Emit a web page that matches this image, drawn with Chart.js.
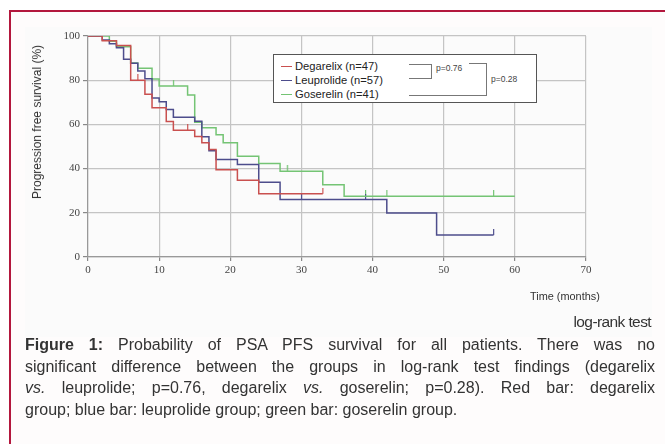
<!DOCTYPE html>
<html><head><meta charset="utf-8">
<script src="https://cdn.jsdelivr.net/npm/chart.js@4.4.0/dist/chart.umd.min.js"></script>
<style>
html,body{margin:0;padding:0;background:#fff;width:665px;height:444px;overflow:hidden;position:relative;font-family:"Liberation Sans",Arial,sans-serif;}
#frame{position:absolute;left:9px;top:10px;width:700px;height:500px;border:2px solid #b3173d;background:#fefcfc;}
#imgbg{position:absolute;left:25px;top:27px;width:627px;height:310px;background:#fbfbfb;}
#c{position:absolute;left:0;top:0;}
.abs{position:absolute;white-space:nowrap;}
#ytitle{left:37px;top:122px;font-size:12px;color:#333;transform:translate(-50%,-50%) rotate(-90deg);line-height:12px;}
#xtitle{left:530px;top:290px;font-size:10.9px;color:#333;line-height:12px;}
#logrank{right:14px;top:314px;font-size:15.5px;color:#333;line-height:16px;letter-spacing:-0.6px;}
#legend{position:absolute;left:273px;top:54px;width:264px;height:49px;box-sizing:border-box;border:1px solid #555;background:#fff;}
.li{position:absolute;left:21px;font-size:11.2px;color:#222;line-height:12px;white-space:nowrap;}
.ls{position:absolute;left:7px;width:11px;height:0;border-top:1.6px solid;}
.br{position:absolute;border-color:#777;border-style:solid;border-width:0;}
.pv{position:absolute;font-size:8.5px;color:#444;line-height:9px;white-space:nowrap;}
#caption{position:absolute;left:25px;top:334px;width:630px;font-size:16px;line-height:21.7px;color:#333;}
#caption div{text-align:justify;text-align-last:justify;white-space:nowrap;}
#caption div.last{text-align:left;text-align-last:left;}
</style></head>
<body>
<div id="frame"></div>
<div id="imgbg"></div>
<canvas id="c" width="665" height="340"></canvas>
<div class="abs" id="ytitle">Progression free survival (%)</div>
<div class="abs" id="xtitle">Time (months)</div>
<div class="abs" id="logrank">log-rank test</div>
<div id="legend"></div>
<div id="caption">
<div><b>Figure 1:</b> Probability of PSA PFS survival for all patients. There was no</div>
<div>significant difference between the groups in log-rank test findings (degarelix</div>
<div><i>vs.</i> leuprolide; p=0.76, degarelix <i>vs.</i> goserelin; p=0.28). Red bar: degarelix</div>
<div class="last">group; blue bar: leuprolide group; green bar: goserelin group.</div>
</div>
<script>
// ---- DATA ----
const seriesNames = ["Degarelix (n=47)", "Leuprolide (n=57)", "Goserelin (n=41)"];
const degarelixTime = [0, 2, 4, 6, 8, 9, 11, 12, 15, 16, 17, 18, 21, 24, 33];
const degarelixPFS  = [100, 97.9, 95.7, 80.0, 73.6, 67.5, 61.3, 57.4, 54.5, 51.7, 48.6, 39.5, 34.7, 28.6, 28.6];
const leuprolideTime = [0, 2, 3, 4, 5, 6, 7, 8, 9, 10, 11, 12, 15, 16, 17, 18, 21, 24, 27, 42, 49, 57];
const leuprolidePFS  = [100, 98.2, 96.5, 94.7, 89.5, 87.7, 84.2, 80.7, 72.0, 70.2, 66.7, 63.2, 61.4, 54.4, 48.1, 44.1, 41.8, 33.8, 26.0, 19.9, 9.9, 9.9];
const goserelinTime = [0, 3, 4, 6, 7, 9, 10, 14, 15, 16, 18, 19, 21, 24, 27, 33, 36, 60];
const goserelinPFS  = [100, 97.6, 95.1, 87.8, 85.4, 80.5, 77.4, 73.3, 61.0, 58.5, 55.3, 51.7, 45.6, 42.3, 38.8, 32.7, 27.5, 27.5];
const degarelixCensored = [7, 14, 33];
const leuprolideCensored = [30, 39, 57];
const goserelinCensored = [12, 28, 39, 42, 57];
const xTicks = [0, 10, 20, 30, 40, 50, 60, 70];
const yTicks = [0, 20, 40, 60, 80, 100];
const pLabels = ["p=0.76", "p=0.28"];
const colors = ["#c9504f", "#4d4d8c", "#74c474"];

// ---- helpers ----
function pts(t, s){ return t.map((x,i)=>({x:x, y:s[i]})); }
function stepAt(t, s, x){ let v=s[0]; for(let i=0;i<t.length;i++){ if(t[i]<=x) v=s[i]; } return v; }
function cens(t, s, c){ return c.map(x=>({x:x, y:stepAt(t,s,x)})); }
function tickImg(color){ const c=document.createElement('canvas'); c.width=3; c.height=12; const g=c.getContext('2d'); g.fillStyle=color; g.fillRect(1,0,1.2,6); return c; }

const curves = [[degarelixTime,degarelixPFS,degarelixCensored],[leuprolideTime,leuprolidePFS,leuprolideCensored],[goserelinTime,goserelinPFS,goserelinCensored]];
const datasets = [];
curves.forEach((c,i)=>{
  datasets.push({label:seriesNames[i], data:pts(c[0],c[1]), stepped:'before', borderColor:colors[i], borderWidth:1.5, pointRadius:0, fill:false});
});
curves.forEach((c,i)=>{
  datasets.push({label:seriesNames[i]+' censored', data:cens(c[0],c[1],c[2]), showLine:false, pointStyle:tickImg(colors[i]), pointRadius:4, borderColor:colors[i]});
});

new Chart(document.getElementById('c'), {
  type:'line',
  data:{datasets:datasets},
  options:{
    responsive:false, animation:false, events:[],
    layout:{padding:{left:0,right:79,top:36,bottom:63}},
    plugins:{legend:{display:false}, tooltip:{enabled:false}},
    scales:{
      x:{type:'linear', min:0, max:70,
        afterBuildTicks:(s)=>{s.ticks=xTicks.map(v=>({value:v}));},
        afterFit:(s)=>{s.height=20;},
        ticks:{font:{family:'"Liberation Serif", serif', size:11}, color:'#444', padding:3, maxRotation:0},
        grid:{color:'#c4c4c4', lineWidth:1.2, tickLength:4, tickColor:'#888'},
        border:{color:'#999', width:1.2}},
      y:{min:0, max:100,
        afterBuildTicks:(s)=>{s.ticks=yTicks.map(v=>({value:v}));},
        afterFit:(s)=>{s.width=88;},
        ticks:{font:{family:'"Liberation Serif", serif', size:11}, color:'#444', padding:3},
        grid:{color:'#c4c4c4', lineWidth:1.2, tickLength:5, tickColor:'#888'},
        border:{color:'#999', width:1.2}}
    }
  }
});

// ---- legend (HTML) ----
const lg = document.getElementById('legend');
const rowY = [11, 25, 39];
seriesNames.forEach((n,i)=>{
  const s=document.createElement('div'); s.className='ls'; s.style.top=(rowY[i])+'px'; s.style.borderTopColor=colors[i]; lg.appendChild(s);
  const t=document.createElement('div'); t.className='li'; t.style.top=(rowY[i]-6)+'px'; t.textContent=n; lg.appendChild(t);
});
function addBr(l,t,w,h,bw){ const d=document.createElement('div'); d.className='br'; d.style.left=l+'px'; d.style.top=t+'px'; d.style.width=w+'px'; d.style.height=h+'px'; d.style.borderWidth=bw; document.body.appendChild(d); }
addBr(409,64,22,13,'1px 1px 1px 0');
addBr(469,63,17,0,'1px 0 0 0');
addBr(409,63,77,32,'0 1px 1px 0');
function addP(txt,l,t){ const d=document.createElement('div'); d.className='pv'; d.style.left=l+'px'; d.style.top=t+'px'; d.textContent=txt; document.body.appendChild(d); }
addP(pLabels[0],436,64);
addP(pLabels[1],491,75);
</script>
</body></html>
